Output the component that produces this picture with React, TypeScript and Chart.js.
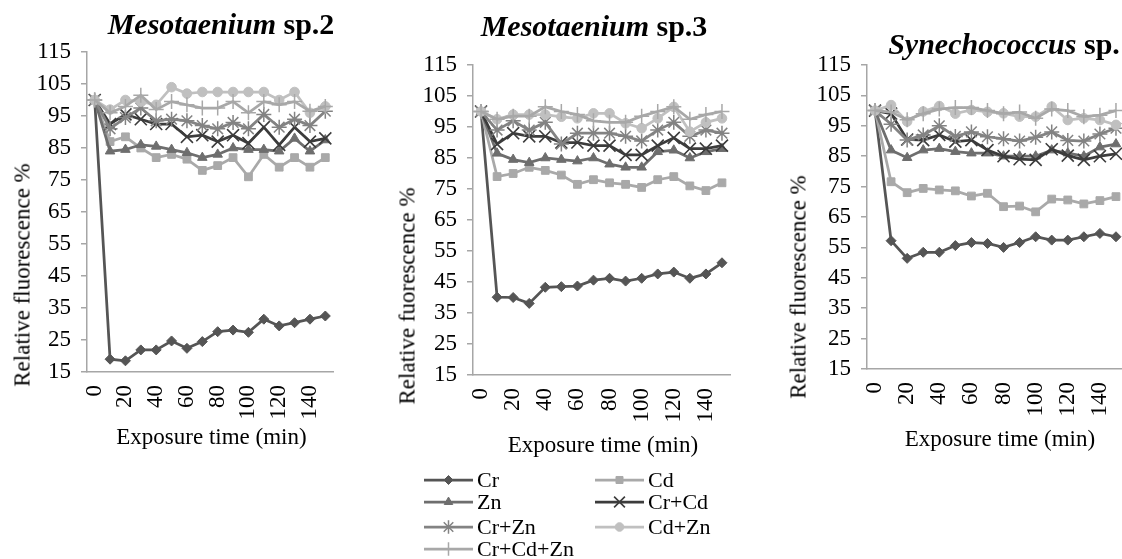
import React, { useEffect, useRef } from 'react';
import { Chart, registerables } from 'chart.js';
import { drawPoint } from 'chart.js/helpers';

Chart.register(...registerables);

const FONT = '"Liberation Serif", "Times New Roman", serif';
const AXIS_COLOR = '#a6a6a6';

// ---------- data ----------
const minutes = ['0', '10', '20', '30', '40', '50', '60', '70', '80', '90', '100', '110', '120', '130', '140', '150'];
const seriesNames = ['Cr', 'Cd', 'Zn', 'Cr+Cd', 'Cr+Zn', 'Cd+Zn', 'Cr+Cd+Zn'];
const seriesColors = ['#555555', '#a9a9a9', '#6e6e6e', '#3c3c3c', '#838383', '#c0c0c0', '#a8a8a8'];
const seriesPointStyles = ['rectRot', 'rect', 'triangle', 'crossRot', 'star', 'circle', 'cross'];
const seriesPointRadius = [5, 5.5, 5.5, 8.5, 7.5, 4.8, 7.5];
const seriesPointBorder = [1, 1, 1, 1.6, 1.5, 1, 1.5];
const yMin = 15;
const yMax = 115;
const yStep = 10;

// Mesotaenium sp.2
const m2Cr = [100, 19.0, 18.5, 21.9, 21.9, 24.7, 22.4, 24.5, 27.6, 28.1, 27.4, 31.5, 29.4, 30.4, 31.5, 32.5];
const m2Cd = [100, 87, 88.5, 85, 82, 83, 81.5, 78, 79.5, 82, 76, 83, 79, 82, 79, 82];
const m2Zn = [100, 84, 84.5, 86, 85.5, 84.5, 83.5, 82, 83, 85, 84.5, 84.5, 84, 88, 84, 87.5];
const m2CrCd = [100, 92.5, 95.5, 94, 92.5, 92.5, 88.5, 89, 87, 89, 86.5, 91.5, 86, 91.5, 87, 88];
const m2CrZn = [100, 91, 94.5, 97.5, 93.5, 94, 93.5, 92, 91, 93, 91, 95.5, 91.5, 94, 92, 96.5];
const m2CdZn = [100, 97, 100, 99.5, 98.5, 104, 102, 102.5, 102.5, 102.5, 102.5, 102.5, 100, 102.5, 96, 98];
const m2CrCdZn = [100, 96, 98, 101.5, 97, 99.5, 98.5, 97.5, 97.5, 99.5, 96, 99.5, 98.5, 99.5, 96.5, 98];

// Mesotaenium sp.3
const m3Cr = [100, 40.1, 40, 38.1, 43.3, 43.5, 43.7, 45.6, 46.2, 45.3, 46.2, 47.6, 48.2, 46.2, 47.6, 51.2];
const m3Cd = [100, 79, 80, 82, 81, 79.5, 76.5, 78, 77, 76.5, 75.5, 78, 79, 76, 74.5, 77];
const m3Zn = [100, 86.5, 84.5, 83.5, 85, 84.5, 84, 85, 83, 82, 82, 87, 87.5, 85, 87, 88];
const m3CrCd = [100, 89.5, 93, 92, 92, 90, 90, 89, 89, 86, 86, 89, 91.5, 88, 88, 89];
const m3CrZn = [100, 94, 97, 94, 96.5, 89.5, 93, 93, 93, 92, 90.5, 94, 96.5, 92, 94, 93];
const m3CdZn = [100, 97.5, 99, 99, 99, 98.3, 97.8, 99.4, 99.4, 96.2, 94.6, 97.8, 101.5, 93.5, 96.5, 97.8];
const m3CrCdZn = [100, 97.5, 98.5, 98.5, 101.5, 100, 99, 97, 96.5, 96.5, 98.5, 100, 101.5, 97.5, 99, 100];

// Synechococcus sp.
const syCr = [100, 57.2, 51.4, 53.4, 53.4, 55.6, 56.6, 56.3, 55, 56.6, 58.5, 57.4, 57.4, 58.5, 59.6, 58.5];
const syCd = [100, 76.6, 73, 74.4, 73.9, 73.6, 71.9, 72.8, 68.4, 68.6, 66.7, 70.9, 70.6, 69.3, 70.4, 71.7];
const syZn = [100, 87, 84.5, 87, 87.5, 86.5, 86, 86, 85, 85, 85, 87, 86, 85, 88, 89];
const syCrCd = [100, 99, 90.5, 90.3, 92, 89.8, 90.3, 87, 85, 84, 83.8, 87.3, 85.2, 83.8, 85, 85.8];
const syCrZn = [100, 95.5, 90.3, 92, 95, 91.5, 93, 91.4, 90.7, 90, 91.2, 93, 90.2, 90, 92.3, 94.2];
const syCdZn = [100, 101.8, 96.4, 99.7, 101.5, 99, 100.2, 99.6, 99.1, 98, 98, 101.3, 96.9, 97.5, 96.9, 95.3];
const syCrCdZn = [100, 99.5, 97, 99, 100.5, 101, 101, 100, 99, 99.5, 97.5, 100.5, 100, 98, 98.5, 100];

const m2Values = [m2Cr, m2Cd, m2Zn, m2CrCd, m2CrZn, m2CdZn, m2CrCdZn];
const m3Values = [m3Cr, m3Cd, m3Zn, m3CrCd, m3CrZn, m3CdZn, m3CrCdZn];
const syValues = [syCr, syCd, syZn, syCrCd, syCrZn, syCdZn, syCrCdZn];

// ---------- layout ----------
type PanelLayout = {
  left: number;
  top: number;
  width: number;
  height: number;
  padTop: number;
  padRight: number;
  yWidth: number;
  xHeight: number;
};

const panel1: PanelLayout = { left: 0, top: 30, width: 347, height: 430, padTop: 22, padRight: 14, yWidth: 87, xHeight: 88 };
const panel2: PanelLayout = { left: 380, top: 40, width: 364, height: 519, padTop: 25, padRight: 14, yWidth: 93, xHeight: 184 };
const panel3: PanelLayout = { left: 780, top: 40, width: 358, height: 420, padTop: 25, padRight: 14, yWidth: 87, xHeight: 91 };

// legend (canvas coords of panel 2)
const legendColX = [44, 215];
const legendRowY = [440, 462, 487, 509];
const legendLineLen = 49;

const gridLegendPlugin = {
  id: 'gridLegend',
  afterDraw(chart: any) {
    const ctx = chart.ctx as CanvasRenderingContext2D;
    ctx.save();
    chart.data.datasets.forEach((ds: any, i: number) => {
      const col = i % 2;
      const row = Math.floor(i / 2);
      const x0 = legendColX[col];
      const y = legendRowY[row];
      ctx.strokeStyle = ds.borderColor;
      ctx.lineWidth = ds.borderWidth;
      ctx.beginPath();
      ctx.moveTo(x0, y);
      ctx.lineTo(x0 + legendLineLen, y);
      ctx.stroke();
      ctx.fillStyle = ds.pointBackgroundColor;
      ctx.strokeStyle = ds.pointBorderColor;
      ctx.lineWidth = ds.pointBorderWidth;
      drawPoint(
        ctx,
        { pointStyle: ds.pointStyle, radius: ds.pointRadius * 0.9, rotation: 0, borderWidth: ds.pointBorderWidth } as any,
        x0 + legendLineLen / 2,
        y
      );
      ctx.fillStyle = '#000';
      ctx.font = `22px ${FONT}`;
      ctx.textAlign = 'left';
      ctx.textBaseline = 'alphabetic';
      ctx.fillText(ds.label, x0 + legendLineLen + 4, y + 7.3);
    });
    ctx.restore();
  },
};

function makeConfig(values: number[][], layout: PanelLayout, withLegend: boolean): any {
  return {
    type: 'line',
    data: {
      labels: minutes,
      datasets: seriesNames.map((name, i) => ({
        label: name,
        data: values[i],
        borderColor: seriesColors[i],
        backgroundColor: seriesColors[i],
        pointBackgroundColor: seriesColors[i],
        pointBorderColor: seriesColors[i],
        pointStyle: seriesPointStyles[i],
        pointRadius: seriesPointRadius[i],
        pointBorderWidth: seriesPointBorder[i],
        borderWidth: 2.75,
        tension: 0,
        fill: false,
        order: seriesNames.length - 1 - i,
      })),
    },
    options: {
      animation: false,
      responsive: false,
      devicePixelRatio: 1,
      events: [],
      layout: { padding: { left: 0, top: layout.padTop, right: layout.padRight, bottom: 0 } },
      plugins: {
        legend: { display: false },
        tooltip: { enabled: false },
        title: { display: false },
      },
      scales: {
        x: {
          type: 'category',
          offset: true,
          grid: { display: false, drawTicks: false },
          border: { display: true, color: AXIS_COLOR, width: 1.5 },
          ticks: {
            autoSkip: false,
            minRotation: 90,
            maxRotation: 90,
            padding: 13,
            color: '#000',
            font: { family: FONT, size: 23 },
            callback: (_v: any, i: number) => (i % 2 === 0 ? minutes[i] : ''),
          },
          afterFit: (s: any) => {
            s.height = layout.xHeight;
            s.paddingLeft = 0;
            s.paddingRight = 0;
          },
        },
        y: {
          min: yMin,
          max: yMax,
          grid: {
            display: true,
            drawOnChartArea: false,
            drawTicks: true,
            tickLength: 6,
            color: AXIS_COLOR,
            lineWidth: 1.5,
          },
          border: { display: true, color: AXIS_COLOR, width: 1.5 },
          ticks: {
            stepSize: yStep,
            autoSkip: false,
            padding: 10,
            color: '#000',
            font: { family: FONT, size: 23 },
          },
          afterFit: (s: any) => {
            s.width = layout.yWidth;
            s.paddingTop = 0;
            s.paddingBottom = 0;
          },
        },
      },
    },
    plugins: withLegend ? [gridLegendPlugin] : [],
  };
}

const textBase: React.CSSProperties = {
  position: 'absolute',
  whiteSpace: 'nowrap',
  lineHeight: 1,
  color: '#000',
  fontFamily: FONT,
};

function titleStyle(x: number, y: number): React.CSSProperties {
  return { ...textBase, left: x, top: y, transform: 'translate(-50%, -50%)', fontSize: 30, fontWeight: 'bold' };
}
function xTitleStyle(x: number, y: number): React.CSSProperties {
  return { ...textBase, left: x, top: y, transform: 'translate(-50%, -50%)', fontSize: 23 };
}
function yTitleStyle(x: number, y: number): React.CSSProperties {
  return { ...textBase, left: x, top: y, transform: 'translate(-50%, -50%) rotate(-90deg)', fontSize: 23 };
}
function canvasStyle(l: PanelLayout): React.CSSProperties {
  return { position: 'absolute', left: l.left, top: l.top, width: l.width, height: l.height };
}

export default function App() {
  const c1 = useRef<HTMLCanvasElement>(null);
  const c2 = useRef<HTMLCanvasElement>(null);
  const c3 = useRef<HTMLCanvasElement>(null);

  useEffect(() => {
    const charts: Chart[] = [];
    if (c1.current) charts.push(new Chart(c1.current, makeConfig(m2Values, panel1, false)));
    if (c2.current) charts.push(new Chart(c2.current, makeConfig(m3Values, panel2, true)));
    if (c3.current) charts.push(new Chart(c3.current, makeConfig(syValues, panel3, false)));
    return () => charts.forEach((c) => c.destroy());
  }, []);

  return (
    <div
      style={{
        position: 'absolute',
        left: 0,
        top: 0,
        width: 1122,
        height: 559,
        overflow: 'hidden',
        background: '#ffffff',
      }}
    >
      <canvas ref={c1} width={panel1.width} height={panel1.height} style={canvasStyle(panel1)} />
      <canvas ref={c2} width={panel2.width} height={panel2.height} style={canvasStyle(panel2)} />
      <canvas ref={c3} width={panel3.width} height={panel3.height} style={canvasStyle(panel3)} />

      <div style={titleStyle(221, 24)}>
        <i>Mesotaenium</i> sp.2
      </div>
      <div style={titleStyle(594, 26)}>
        <i>Mesotaenium</i> sp.3
      </div>
      <div style={titleStyle(1004, 44)}>
        <i>Synechococcus</i> sp.
      </div>

      <div style={yTitleStyle(21.7, 275)}>Relative fluorescence %</div>
      <div style={yTitleStyle(406.5, 296)}>Relative fuorescence %</div>
      <div style={yTitleStyle(798, 287)}>Relative fluorescence %</div>

      <div style={xTitleStyle(211.5, 435.5)}>Exposure time (min)</div>
      <div style={xTitleStyle(603, 444)}>Exposure time (min)</div>
      <div style={xTitleStyle(1000, 438)}>Exposure time (min)</div>
    </div>
  );
}
